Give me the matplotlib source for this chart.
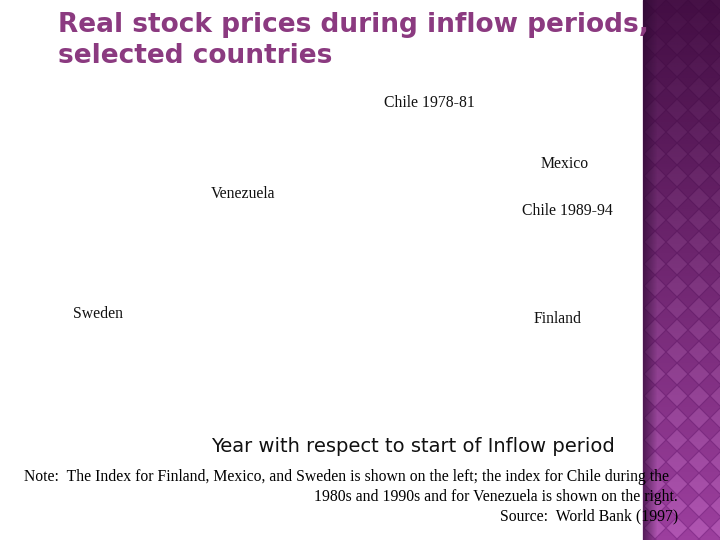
import matplotlib
matplotlib.use("Agg")
import matplotlib.pyplot as plt
from matplotlib.patches import Rectangle, Polygon
import numpy as np

title = "Real stock prices during inflow periods,\nselected countries"
series_labels = ["Chile 1978-81", "Mexico", "Venezuela", "Chile 1989-94", "Sweden", "Finland"]
label_px = [(384, 103), (541, 164), (211, 194), (522, 211), (73, 314), (534, 319)]
xlabel = "Year with respect to start of Inflow period"
note_lines = ["Note:  The Index for Finland, Mexico, and Sweden is shown on the left; the index for Chile during the",
              "1980s and 1990s and for Venezuela is shown on the right.",
              "Source:  World Bank (1997)"]

W, H = 720, 540
fig = plt.figure(figsize=(7.2, 5.4), dpi=100)
bg = fig.add_axes([0, 0, 1, 1])
bg.set_xlim(0, W); bg.set_ylim(H, 0); bg.axis("off")

# decorative purple strip
x0 = 643
bg.add_patch(Rectangle((x0, 0), W - x0, H, color="#9c3f9e", zorder=0))
s = 22
for yc in np.arange(-s, H + s, s):
    for xc in np.arange(x0 + 12, W + s, s):
        bg.add_patch(Polygon([(xc, yc - s / 2), (xc + s / 2, yc), (xc, yc + s / 2), (xc - s / 2, yc)],
                             closed=True, fc="#b055b2", ec="#8a3290", lw=0.8, zorder=2))
# vertical darkening toward the top
grad = np.linspace(0.85, 0.0, 256).reshape(-1, 1)
bg.imshow(np.dstack([np.full_like(grad, 0.2), np.full_like(grad, 0.02), np.full_like(grad, 0.2), grad]),
          extent=(x0, W, H, 0), aspect="auto", zorder=3)
for i in range(14):
    bg.add_patch(Rectangle((x0 + i, 0), 1, H, color="#2a0830", alpha=0.6 * (1 - i / 14), zorder=4, lw=0))
bg.set_xlim(0, W); bg.set_ylim(H, 0)

bg.text(58, 12, title, ha="left", va="top", fontsize=19, color="#8b3a80", fontweight="bold",
        family="DejaVu Sans", linespacing=1.25, zorder=10)

for lab, (x, y) in zip(series_labels, label_px):
    bg.text(x, y, lab, ha="left", va="center", fontsize=11.3, family="Liberation Serif", color="#111111")

bg.text(413, 446, xlabel, ha="center", va="center", fontsize=14, family="DejaVu Sans", color="#111111")

bg.text(24, 477, note_lines[0], ha="left", va="center", fontsize=11.3, family="Liberation Serif", zorder=10)
bg.text(678, 497, note_lines[1], ha="right", va="center", fontsize=11.3, family="Liberation Serif", zorder=10)
bg.text(678, 516, note_lines[2], ha="right", va="center", fontsize=11.3, family="Liberation Serif", zorder=10)

fig.savefig("out.png", dpi=100)
